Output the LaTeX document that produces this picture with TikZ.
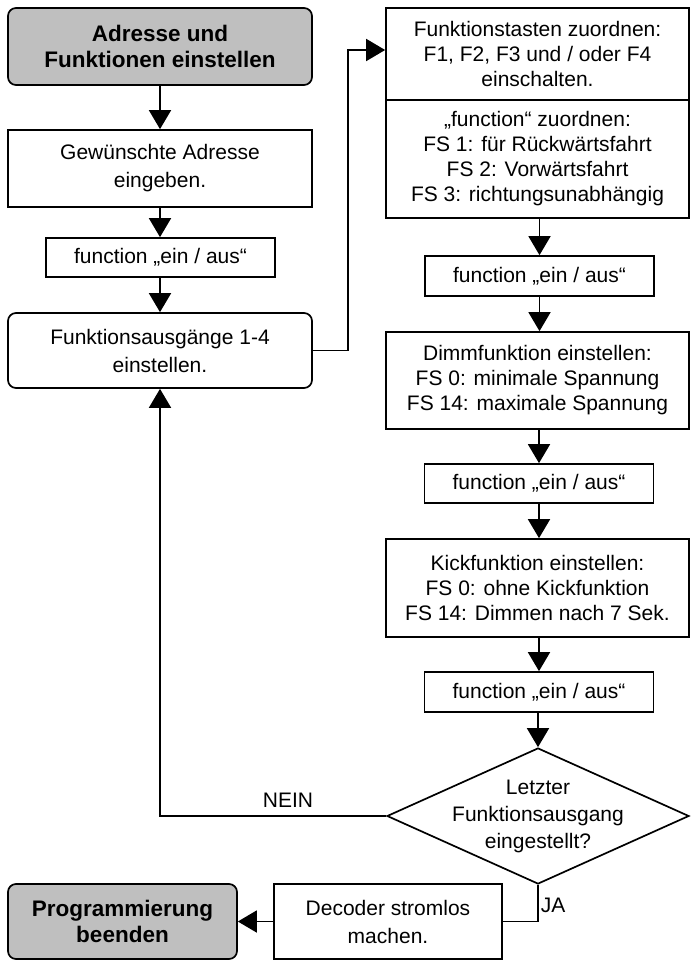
\documentclass[tikz,border=0pt]{standalone}
\usepackage{fontspec}
\setmainfont{Liberation Sans}
\usetikzlibrary{shapes.geometric,arrows.meta}
\begin{document}
\begin{tikzpicture}[x=1pt,y=-1pt,
  box/.style={draw, line width=1.7pt, fill=white, align=center, inner sep=2pt,
    font=\fontsize{21}{25}\selectfont},
  wbox/.style={box, minimum width=303pt},
  sbox/.style={box, minimum width=229pt, minimum height=39pt},
  term/.style={box, rounded corners=8pt, fill=gray!50,
    font=\fontsize{22.5}{26}\selectfont\bfseries},
  rbox/.style={box, rounded corners=8pt},
  conn/.style={line width=1.7pt},
  arr/.style={conn, -{Triangle[width=22pt,length=19pt]}},
  lbl/.style={font=\fontsize{21}{25}\selectfont, inner sep=0pt}
]
\useasboundingbox (0,0) rectangle (690,960);

% left column
\node[term, minimum width=304pt, minimum height=77pt] (start) at (160,46.5)
  {Adresse und\\Funktionen einstellen};
\node[box, minimum width=304pt, minimum height=77pt,
  font=\fontsize{21}{28}\selectfont] (addr) at (160,168.5)
  {Gewünschte Adresse\\eingeben.};
\node[sbox] (f1) at (160.5,257.5) {function „ein / aus“};
\node[rbox, minimum width=304pt, minimum height=75pt,
  font=\fontsize{21}{28}\selectfont] (fa) at (160,350.5)
  {Funktionsausgänge 1-4\\einstellen.};

% right column
\node[wbox, minimum height=92pt] (tast) at (537.5,54)
  {Funktionstasten zuordnen:\\F1, F2, F3 und / oder F4\\einschalten.};
\node[wbox, minimum height=118pt] (fs) at (537.5,159)
  {„function“ zuordnen:\\FS 1: für Rückwärtsfahrt\\FS 2: Vorwärtsfahrt\\FS 3: richtungsunabhängig};
\node[sbox, minimum height=40pt] (f2) at (539.5,276) {function „ein / aus“};
\node[wbox, minimum height=97pt] (dimm) at (537.5,380.5)
  {Dimmfunktion einstellen:\\FS 0: minimale Spannung\\FS 14: maximale Spannung};
\node[sbox] (f3) at (539,483.5) {function „ein / aus“};
\node[wbox, minimum height=98pt] (kick) at (537.5,588)
  {Kickfunktion einstellen:\\FS 0: ohne Kickfunktion\\FS 14: Dimmen nach 7 Sek.};
\node[sbox, minimum height=40pt] (f4) at (539,692) {function „ein / aus“};

% decision
\node[draw, shape=diamond, line width=1.7pt, minimum width=302pt,
  minimum height=136pt, inner sep=0pt] (dia) at (538,816) {};
\node[align=center, font=\fontsize{21}{27}\selectfont, inner sep=0pt] (diat) at (538,816)
  {Letzter\\Funktionsausgang\\eingestellt?};

% bottom
\node[box, minimum width=228pt, minimum height=75pt,
  font=\fontsize{21}{28}\selectfont] (dec) at (388,921.5)
  {Decoder stromlos\\machen.};
\node[term, minimum width=229pt, minimum height=75pt] (end) at (122.5,921.5)
  {Programmierung\\beenden};

% connectors
\draw[arr] (start) -- (addr);
\draw[arr] (addr.south) -- (addr.south |- f1.north);
\draw[arr] (f1.south -| fa.north) -- (fa.north);
\coordinate (c1) at (348,50);
\draw[arr] (fa.east) -| (c1) -- (c1 -| tast.west);
\draw[arr] (fs.south -| f2.north) -- (f2.north);
\draw[arr] (f2.south) -- (f2.south |- dimm.north);
\draw[arr] (dimm.south -| f3.north) -- (f3.north);
\draw[arr] (f3.south) -- (f3.south |- kick.north);
\draw[arr] (kick.south -| f4.north) -- (f4.north);
\draw[arr] (f4.south -| dia.north) -- (dia.north);
\draw[arr] (dia.west) -| (fa.south);
\draw[conn] (dia.south) |- (dec.east);
\draw[arr] (dec.west) -- (end.east);

\node[lbl] (nein) at (288,800) {NEIN};
\node[lbl] (ja) at (553,905) {JA};
\end{tikzpicture}
\end{document}
